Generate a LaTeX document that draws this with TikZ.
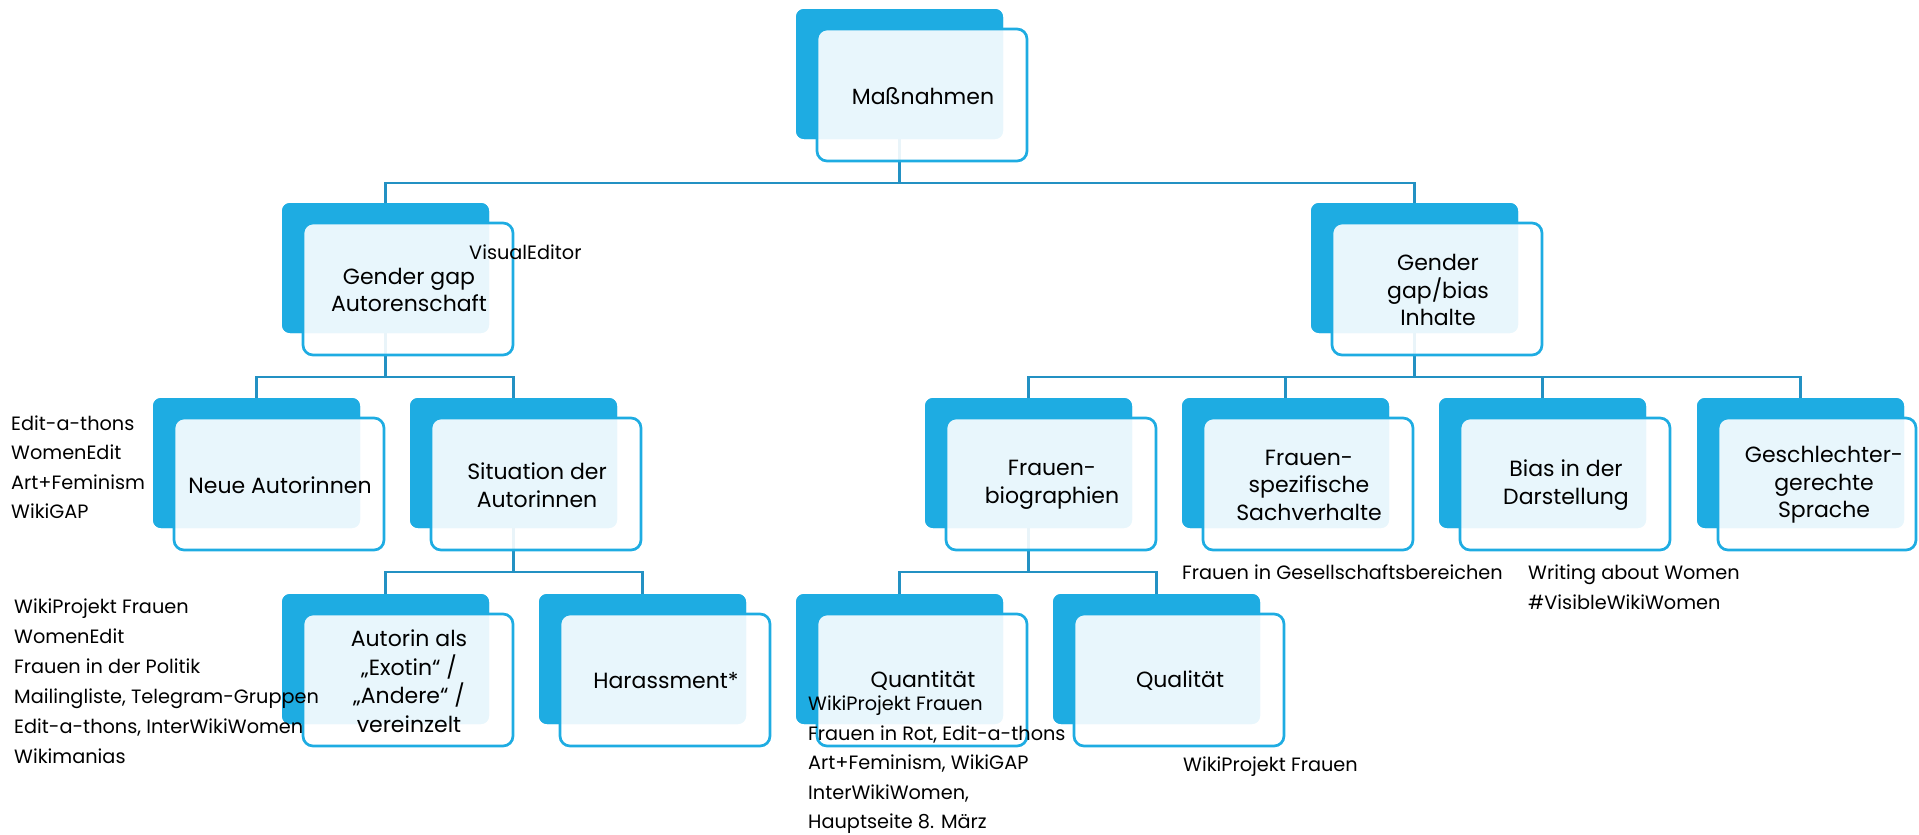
\documentclass[tikz,border=0pt]{standalone}
\usepackage{fontspec}
\setmainfont{Poppins}
\definecolor{cback}{RGB}{30,172,226}
\definecolor{cconn}{RGB}{35,145,195}
\begin{document}
\begin{tikzpicture}[x=1pt,y=-1pt,
  backbox/.style={draw=none, fill=cback, rounded corners=8pt, minimum width=207pt, minimum height=130pt, inner sep=0pt, outer sep=0pt, anchor=north west},
  frontbox/.style={draw=cback, line width=2.7pt, fill=white, fill opacity=0.9, rounded corners=10pt, minimum width=210pt, minimum height=132pt, inner sep=0pt, outer sep=0pt, anchor=north west},
  btext/.style={font=\fontsize{22}{27.5}\selectfont, align=center, inner sep=0pt, text=black},
  ltext/.style={font=\fontsize{19.3}{29.5}\selectfont, align=left, inner sep=0pt, anchor=west, text=black},
  conn/.style={draw=cconn, line width=2.6pt}]
\useasboundingbox (0,0) rectangle (1919,835);
\coordinate (bus0) at (0,183);
\coordinate (bus1) at (0,377);
\coordinate (bus2) at (0,572);
% back boxes
\node[backbox] (M-b) at (796,9) {};
\node[backbox] (GGA-b) at (282,203) {};
\node[backbox] (GGB-b) at (1311,203) {};
\node[backbox] (NA-b) at (153,398) {};
\node[backbox] (SA-b) at (410,398) {};
\node[backbox] (FB-b) at (925,398) {};
\node[backbox] (FS-b) at (1182,398) {};
\node[backbox] (BD-b) at (1439,398) {};
\node[backbox] (GS-b) at (1697,398) {};
\node[backbox] (AE-b) at (282,594) {};
\node[backbox] (HA-b) at (539,594) {};
\node[backbox] (QN-b) at (796,594) {};
\node[backbox] (QL-b) at (1053,594) {};
% connectors
\draw[conn] (M-b.south) |- (GGA-b.north |- bus0) -- (GGA-b.north);
\draw[conn] (M-b.south) |- (GGB-b.north |- bus0) -- (GGB-b.north);
\draw[conn] (GGA-b.south) |- (NA-b.north |- bus1) -- (NA-b.north);
\draw[conn] (GGA-b.south) |- (SA-b.north |- bus1) -- (SA-b.north);
\draw[conn] (SA-b.south) |- (AE-b.north |- bus2) -- (AE-b.north);
\draw[conn] (SA-b.south) |- (HA-b.north |- bus2) -- (HA-b.north);
\draw[conn] (GGB-b.south) |- (FB-b.north |- bus1) -- (FB-b.north);
\draw[conn] (GGB-b.south) |- (GS-b.north |- bus1) -- (GS-b.north);
\draw[conn] (FS-b.north |- bus1) -- (FS-b.north);
\draw[conn] (BD-b.north |- bus1) -- (BD-b.north);
\draw[conn] (FB-b.south) |- (QN-b.north |- bus2) -- (QN-b.north);
\draw[conn] (FB-b.south) |- (QL-b.north |- bus2) -- (QL-b.north);
% redraw back boxes above connectors
\foreach \x/\y in {796/9, 282/203, 1311/203, 153/398, 410/398, 925/398, 1182/398, 1439/398, 282/594, 539/594, 796/594, 1053/594, 1697/398}
  {\fill[cback, rounded corners=8pt] (\x,\y) rectangle ++(207,130);}
% front boxes
\node[frontbox] (M) at (817,29) {};
\node[frontbox] (GGA) at (303,223) {};
\node[frontbox] (GGB) at (1332,223) {};
\node[frontbox] (NA) at (174,418) {};
\node[frontbox] (SA) at (431,418) {};
\node[frontbox] (FB) at (946,418) {};
\node[frontbox] (FS) at (1203,418) {};
\node[frontbox] (BD) at (1460,418) {};
\node[frontbox, minimum width=198pt] (GS) at (1718,418) {};
\node[frontbox] (AE) at (303,614) {};
\node[frontbox] (HA) at (560,614) {};
\node[frontbox] (QN) at (817,614) {};
\node[frontbox] (QL) at (1074,614) {};
% box texts
\node[btext] (M-t) at (923,96) {Maßnahmen};
\node[btext] (GGA-t) at (409,290) {Gender gap\\Autorenschaft};
\node[btext] (GGB-t) at (1438,290) {Gender\\gap/bias\\Inhalte};
\node[btext] (NA-t) at (280,485) {Neue Autorinnen};
\node[btext] (SA-t) at (537,485) {Situation der\\Autorinnen};
\node[btext] (FB-t) at (1052,485) {Frauen-\\biographien};
\node[btext] (FS-t) at (1309,485) {Frauen-\\spezifische\\Sachverhalte};
\node[btext] (BD-t) at (1566,485) {Bias in der\\Darstellung};
\node[btext] (GS-t) at (1824,485) {Geschlechter-\\gerechte\\Sprache};
\node[btext, font=\fontsize{22}{28.5}\selectfont] (AE-t) at (409,681) {Autorin als\\„Exotin“ /\\„Andere“ /\\vereinzelt};
\node[btext] (HA-t) at (666,681) {Harassment*};
\node[btext] (QN-t) at (923,681) {Quantität};
\node[btext] (QL-t) at (1180,681) {Qualität};
% free texts
\node[ltext] (ve) at (469,252) {VisualEditor};
\node[ltext] (l1) at (11,467) {Edit-a-thons\\WomenEdit\\Art+Feminism\\WikiGAP};
\node[ltext, font=\fontsize{19.3}{30}\selectfont] (l2) at (14,681) {WikiProjekt Frauen\\WomenEdit\\Frauen in der Politik\\Mailingliste, Telegram-Gruppen\\Edit-a-thons, InterWikiWomen\\Wikimanias};
\node[ltext] (l3) at (808,765) {WikiProjekt Frauen\\Frauen in Rot, Edit-a-thons\\Art+Feminism, WikiGAP\\InterWikiWomen,\\Hauptseite 8. März};
\node[ltext] (l4) at (1182,572) {Frauen in Gesellschaftsbereichen};
\node[ltext] (l5) at (1528,587) {Writing about Women\\\#VisibleWikiWomen};
\node[ltext] (l6) at (1183,767) {WikiProjekt Frauen};
\end{tikzpicture}
\end{document}
